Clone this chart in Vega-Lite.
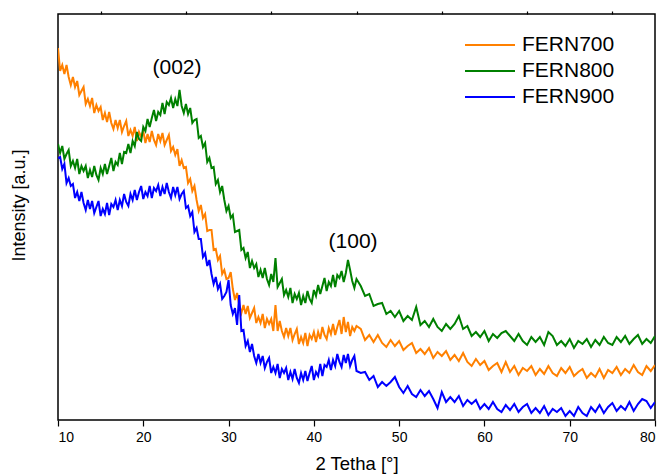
{
  "$schema": "https://vega.github.io/schema/vega-lite/v6.json",
  "width": 597,
  "height": 406,
  "autosize": "none",
  "padding": {"left": 58, "top": 14, "right": 7, "bottom": 55},
  "config": {"view": {"stroke": "#000", "strokeWidth": 1.5}, "font": "Liberation Sans"},
  "resolve": {"axis": {"x": "independent"}},
  "layer": [
    {
      "data": {"values": [
        {"x":10,"FERN700":372,"FERN800":276,"FERN900":262},
        {"x":10.25,"FERN700":349,"FERN800":267,"FERN900":263},
        {"x":10.5,"FERN700":355,"FERN800":274,"FERN900":251},
        {"x":10.75,"FERN700":346,"FERN800":261,"FERN900":256},
        {"x":11,"FERN700":355,"FERN800":266,"FERN900":237},
        {"x":11.25,"FERN700":343,"FERN800":270,"FERN900":242},
        {"x":11.5,"FERN700":335,"FERN800":254,"FERN900":234},
        {"x":11.75,"FERN700":343,"FERN800":259,"FERN900":236},
        {"x":12,"FERN700":333,"FERN800":252,"FERN900":222},
        {"x":12.25,"FERN700":339,"FERN800":261,"FERN900":228},
        {"x":12.5,"FERN700":325,"FERN800":246,"FERN900":219},
        {"x":12.75,"FERN700":329,"FERN800":254,"FERN900":228},
        {"x":13,"FERN700":333,"FERN800":249,"FERN900":217},
        {"x":13.25,"FERN700":316,"FERN800":254,"FERN900":210},
        {"x":13.5,"FERN700":321,"FERN800":242,"FERN900":220},
        {"x":13.75,"FERN700":314,"FERN800":250,"FERN900":211},
        {"x":14,"FERN700":322,"FERN800":243,"FERN900":219},
        {"x":14.25,"FERN700":307,"FERN800":254,"FERN900":207},
        {"x":14.5,"FERN700":315,"FERN800":245,"FERN900":213},
        {"x":14.75,"FERN700":309,"FERN800":240,"FERN900":219},
        {"x":15,"FERN700":313,"FERN800":252,"FERN900":204},
        {"x":15.25,"FERN700":300,"FERN800":246,"FERN900":211},
        {"x":15.5,"FERN700":307,"FERN800":256,"FERN900":206},
        {"x":15.75,"FERN700":298,"FERN800":246,"FERN900":217},
        {"x":16,"FERN700":308,"FERN800":254,"FERN900":205},
        {"x":16.25,"FERN700":297,"FERN800":262,"FERN900":216},
        {"x":16.5,"FERN700":291,"FERN800":249,"FERN900":213},
        {"x":16.75,"FERN700":300,"FERN800":258,"FERN900":220},
        {"x":17,"FERN700":292,"FERN800":255,"FERN900":210},
        {"x":17.25,"FERN700":300,"FERN800":267,"FERN900":220},
        {"x":17.5,"FERN700":288,"FERN800":256,"FERN900":214},
        {"x":17.75,"FERN700":294,"FERN800":268,"FERN900":226},
        {"x":18,"FERN700":299,"FERN800":267,"FERN900":218},
        {"x":18.25,"FERN700":284,"FERN800":276,"FERN900":214},
        {"x":18.5,"FERN700":290,"FERN800":267,"FERN900":226},
        {"x":18.75,"FERN700":284,"FERN800":279,"FERN900":220},
        {"x":19,"FERN700":293,"FERN800":274,"FERN900":230},
        {"x":19.25,"FERN700":279,"FERN800":288,"FERN900":220},
        {"x":19.5,"FERN700":288,"FERN800":281,"FERN900":228},
        {"x":19.75,"FERN700":283,"FERN800":279,"FERN900":234},
        {"x":20,"FERN700":289,"FERN800":293,"FERN900":221},
        {"x":20.25,"FERN700":277,"FERN800":289,"FERN900":228},
        {"x":20.5,"FERN700":286,"FERN800":301,"FERN900":224},
        {"x":20.75,"FERN700":278,"FERN800":293,"FERN900":234},
        {"x":21,"FERN700":289,"FERN800":302,"FERN900":222},
        {"x":21.25,"FERN700":280,"FERN800":310,"FERN900":232},
        {"x":21.5,"FERN700":275,"FERN800":299,"FERN900":229},
        {"x":21.75,"FERN700":286,"FERN800":308,"FERN900":235},
        {"x":22,"FERN700":279,"FERN800":305,"FERN900":224},
        {"x":22.25,"FERN700":287,"FERN800":317,"FERN900":233},
        {"x":22.5,"FERN700":275,"FERN800":306,"FERN900":226},
        {"x":22.75,"FERN700":280,"FERN800":318,"FERN900":237},
        {"x":23,"FERN700":285,"FERN800":315,"FERN900":228},
        {"x":23.25,"FERN700":269,"FERN800":322,"FERN900":222},
        {"x":23.5,"FERN700":273,"FERN800":312,"FERN900":233},
        {"x":23.75,"FERN700":265,"FERN800":321,"FERN900":225},
        {"x":24,"FERN700":271,"FERN800":314,"FERN900":233},
        {"x":24.25,"FERN700":254,"FERN800":330,"FERN900":221},
        {"x":24.5,"FERN700":260,"FERN800":314,"FERN900":226},
        {"x":24.75,"FERN700":252,"FERN800":307,"FERN900":229},
        {"x":25,"FERN700":253,"FERN800":316,"FERN900":212},
        {"x":25.25,"FERN700":237,"FERN800":306,"FERN900":214},
        {"x":25.5,"FERN700":241,"FERN800":312,"FERN900":204},
        {"x":25.75,"FERN700":229,"FERN800":297,"FERN900":208},
        {"x":26,"FERN700":234,"FERN800":300,"FERN900":188},
        {"x":26.25,"FERN700":220,"FERN800":301,"FERN900":192},
        {"x":26.5,"FERN700":209,"FERN800":282,"FERN900":181},
        {"x":26.75,"FERN700":215,"FERN800":284,"FERN900":181},
        {"x":27,"FERN700":202,"FERN800":273,"FERN900":163},
        {"x":27.25,"FERN700":206,"FERN800":277,"FERN900":167},
        {"x":27.5,"FERN700":189,"FERN800":258,"FERN900":154},
        {"x":27.75,"FERN700":190,"FERN800":262,"FERN900":160},
        {"x":28,"FERN700":190,"FERN800":252,"FERN900":146},
        {"x":28.25,"FERN700":170,"FERN800":253,"FERN900":136},
        {"x":28.5,"FERN700":171,"FERN800":236,"FERN900":143},
        {"x":28.75,"FERN700":160,"FERN800":240,"FERN900":131},
        {"x":29,"FERN700":164,"FERN800":228,"FERN900":136},
        {"x":29.25,"FERN700":146,"FERN800":234,"FERN900":121},
        {"x":29.5,"FERN700":150,"FERN800":220,"FERN900":124},
        {"x":29.75,"FERN700":141,"FERN800":209,"FERN900":128},
        {"x":30,"FERN700":142,"FERN800":214,"FERN900":140},
        {"x":30.25,"FERN700":148,"FERN800":202,"FERN900":115},
        {"x":30.5,"FERN700":131,"FERN800":205,"FERN900":106},
        {"x":30.75,"FERN700":120,"FERN800":188,"FERN900":112},
        {"x":31,"FERN700":127,"FERN800":189,"FERN900":95},
        {"x":31.25,"FERN700":115,"FERN800":190,"FERN900":125},
        {"x":31.5,"FERN700":107,"FERN800":170,"FERN900":89},
        {"x":31.75,"FERN700":115,"FERN800":172,"FERN900":90},
        {"x":32,"FERN700":106,"FERN800":162,"FERN900":74},
        {"x":32.25,"FERN700":114,"FERN800":168,"FERN900":79},
        {"x":32.5,"FERN700":102,"FERN800":152,"FERN900":68},
        {"x":32.75,"FERN700":107,"FERN800":159,"FERN900":76},
        {"x":33,"FERN700":112,"FERN800":152,"FERN900":64},
        {"x":33.25,"FERN700":97,"FERN800":156,"FERN900":57},
        {"x":33.5,"FERN700":103,"FERN800":143,"FERN900":66},
        {"x":33.75,"FERN700":97,"FERN800":150,"FERN900":57},
        {"x":34,"FERN700":106,"FERN800":142,"FERN900":64},
        {"x":34.25,"FERN700":92,"FERN800":152,"FERN900":52},
        {"x":34.5,"FERN700":101,"FERN800":141,"FERN900":58},
        {"x":34.75,"FERN700":96,"FERN800":135,"FERN900":62},
        {"x":35,"FERN700":101,"FERN800":146,"FERN900":47},
        {"x":35.25,"FERN700":89,"FERN800":138,"FERN900":53},
        {"x":35.5,"FERN700":115,"FERN800":162,"FERN900":47},
        {"x":35.75,"FERN700":89,"FERN800":133,"FERN900":56},
        {"x":36,"FERN700":99,"FERN800":137,"FERN900":42},
        {"x":36.25,"FERN700":89,"FERN800":141,"FERN900":51},
        {"x":36.5,"FERN700":83,"FERN800":125,"FERN900":47},
        {"x":36.75,"FERN700":92,"FERN800":130,"FERN900":52},
        {"x":37,"FERN700":84,"FERN800":123,"FERN900":40},
        {"x":37.25,"FERN700":92,"FERN800":132,"FERN900":48},
        {"x":37.5,"FERN700":80,"FERN800":117,"FERN900":41},
        {"x":37.75,"FERN700":86,"FERN800":126,"FERN900":51},
        {"x":38,"FERN700":91,"FERN800":121,"FERN900":42},
        {"x":38.25,"FERN700":76,"FERN800":127,"FERN900":37},
        {"x":38.5,"FERN700":83,"FERN800":115,"FERN900":47},
        {"x":38.75,"FERN700":77,"FERN800":124,"FERN900":40},
        {"x":39,"FERN700":87,"FERN800":117,"FERN900":49},
        {"x":39.25,"FERN700":74,"FERN800":129,"FERN900":39},
        {"x":39.5,"FERN700":85,"FERN800":121,"FERN900":47},
        {"x":39.75,"FERN700":81,"FERN800":117,"FERN900":54},
        {"x":40,"FERN700":88,"FERN800":130,"FERN900":40},
        {"x":40.25,"FERN700":78,"FERN800":124,"FERN900":48},
        {"x":40.5,"FERN700":88,"FERN800":135,"FERN900":44},
        {"x":40.75,"FERN700":81,"FERN800":126,"FERN900":56},
        {"x":41,"FERN700":93,"FERN800":134,"FERN900":44},
        {"x":41.25,"FERN700":85,"FERN800":142,"FERN900":55},
        {"x":41.5,"FERN700":81,"FERN800":129,"FERN900":53},
        {"x":41.75,"FERN700":92,"FERN800":138,"FERN900":60},
        {"x":42,"FERN700":86,"FERN800":134,"FERN900":50},
        {"x":42.25,"FERN700":96,"FERN800":145,"FERN900":60},
        {"x":42.5,"FERN700":85,"FERN800":133,"FERN900":54},
        {"x":42.75,"FERN700":93,"FERN800":145,"FERN900":66},
        {"x":43,"FERN700":100,"FERN800":142,"FERN900":58},
        {"x":43.25,"FERN700":86,"FERN800":149,"FERN900":53},
        {"x":43.5,"FERN700":103,"FERN800":138,"FERN900":65},
        {"x":43.75,"FERN700":88,"FERN800":147,"FERN900":57},
        {"x":44,"FERN700":98,"FERN800":160,"FERN900":66},
        {"x":44.25,"FERN700":84,"FERN800":150,"FERN900":54},
        {"x":44.5,"FERN700":93,"FERN800":139,"FERN900":60},
        {"x":44.75,"FERN700":89,"FERN800":132,"FERN900":64},
        {"x":45,"FERN700":94,"FERN800":141,"FERN900":49},
        {"x":45.5,"FERN700":91,"FERN800":134,"FERN900":47},
        {"x":46,"FERN700":80,"FERN800":124,"FERN900":48},
        {"x":46.5,"FERN700":85,"FERN800":126,"FERN900":40},
        {"x":47,"FERN700":78,"FERN800":114,"FERN900":44},
        {"x":47.5,"FERN700":85,"FERN800":116,"FERN900":33},
        {"x":48,"FERN700":77,"FERN800":117,"FERN900":38},
        {"x":48.5,"FERN700":73,"FERN800":106,"FERN900":34},
        {"x":49,"FERN700":80,"FERN800":109,"FERN900":38},
        {"x":49.5,"FERN700":74,"FERN800":103,"FERN900":43},
        {"x":50,"FERN700":79,"FERN800":109,"FERN900":33},
        {"x":50.5,"FERN700":70,"FERN800":99,"FERN900":27},
        {"x":51,"FERN700":74,"FERN800":104,"FERN900":34},
        {"x":51.5,"FERN700":77,"FERN800":100,"FERN900":26},
        {"x":52,"FERN700":67,"FERN800":113,"FERN900":23},
        {"x":52.5,"FERN700":71,"FERN800":95,"FERN900":30},
        {"x":53,"FERN700":66,"FERN800":99,"FERN900":24},
        {"x":53.5,"FERN700":72,"FERN800":93,"FERN900":29},
        {"x":54,"FERN700":62,"FERN800":101,"FERN900":21},
        {"x":54.5,"FERN700":68,"FERN800":93,"FERN900":12},
        {"x":55,"FERN700":64,"FERN800":89,"FERN900":28},
        {"x":55.5,"FERN700":69,"FERN800":96,"FERN900":18},
        {"x":56,"FERN700":60,"FERN800":91,"FERN900":23},
        {"x":56.5,"FERN700":65,"FERN800":96,"FERN900":18},
        {"x":57,"FERN700":59,"FERN800":104,"FERN900":24},
        {"x":57.5,"FERN700":67,"FERN800":91,"FERN900":14},
        {"x":58,"FERN700":58,"FERN800":94,"FERN900":20},
        {"x":58.5,"FERN700":54,"FERN800":84,"FERN900":16},
        {"x":59,"FERN700":61,"FERN800":88,"FERN900":20},
        {"x":59.5,"FERN700":55,"FERN800":83,"FERN900":11},
        {"x":60,"FERN700":59,"FERN800":89,"FERN900":16},
        {"x":60.5,"FERN700":50,"FERN800":79,"FERN900":11},
        {"x":61,"FERN700":54,"FERN800":86,"FERN900":18},
        {"x":61.5,"FERN700":57,"FERN800":82,"FERN900":11},
        {"x":62,"FERN700":48,"FERN800":87,"FERN900":8},
        {"x":62.5,"FERN700":58,"FERN800":89,"FERN900":15},
        {"x":63,"FERN700":48,"FERN800":84,"FERN900":10},
        {"x":63.5,"FERN700":54,"FERN800":79,"FERN900":16},
        {"x":64,"FERN700":45,"FERN800":86,"FERN900":8},
        {"x":64.5,"FERN700":52,"FERN800":79,"FERN900":13},
        {"x":65,"FERN700":49,"FERN800":75,"FERN900":16},
        {"x":65.5,"FERN700":54,"FERN800":83,"FERN900":7},
        {"x":66,"FERN700":45,"FERN800":78,"FERN900":12},
        {"x":66.5,"FERN700":51,"FERN800":83,"FERN900":7},
        {"x":67,"FERN700":46,"FERN800":75,"FERN900":14},
        {"x":67.5,"FERN700":54,"FERN800":88,"FERN900":5},
        {"x":68,"FERN700":47,"FERN800":84,"FERN900":11},
        {"x":68.5,"FERN700":44,"FERN800":75,"FERN900":8},
        {"x":69,"FERN700":52,"FERN800":79,"FERN900":12},
        {"x":69.5,"FERN700":47,"FERN800":74,"FERN900":4},
        {"x":70,"FERN700":53,"FERN800":81,"FERN900":9},
        {"x":70.5,"FERN700":44,"FERN800":72,"FERN900":4},
        {"x":71,"FERN700":48,"FERN800":79,"FERN900":13},
        {"x":71.5,"FERN700":51,"FERN800":76,"FERN900":7},
        {"x":72,"FERN700":42,"FERN800":81,"FERN900":4},
        {"x":72.5,"FERN700":47,"FERN800":73,"FERN900":13},
        {"x":73,"FERN700":43,"FERN800":80,"FERN900":8},
        {"x":73.5,"FERN700":51,"FERN800":75,"FERN900":15},
        {"x":74,"FERN700":42,"FERN800":83,"FERN900":7},
        {"x":74.5,"FERN700":50,"FERN800":77,"FERN900":13},
        {"x":75,"FERN700":47,"FERN800":75,"FERN900":17},
        {"x":75.5,"FERN700":53,"FERN800":83,"FERN900":9},
        {"x":76,"FERN700":45,"FERN800":78,"FERN900":14},
        {"x":76.5,"FERN700":51,"FERN800":84,"FERN900":10},
        {"x":77,"FERN700":47,"FERN800":76,"FERN900":18},
        {"x":77.5,"FERN700":55,"FERN800":81,"FERN900":9},
        {"x":78,"FERN700":48,"FERN800":85,"FERN900":16},
        {"x":78.5,"FERN700":45,"FERN800":76,"FERN900":21},
        {"x":79,"FERN700":54,"FERN800":81,"FERN900":19},
        {"x":79.5,"FERN700":49,"FERN800":77,"FERN900":12},
        {"x":80,"FERN700":55,"FERN800":84,"FERN900":18}
      ]},
      "transform": [{"fold": ["FERN700", "FERN800", "FERN900"], "as": ["s", "v"]}],
      "mark": {"type": "line", "strokeWidth": 2, "clip": true},
      "encoding": {
        "x": {"field": "x", "type": "quantitative",
          "scale": {"domain": [10, 80], "nice": false, "zero": false},
          "axis": {"values": [10, 20, 30, 40, 50, 60, 70, 80], "title": "2 Tetha [°]", "grid": false, "domain": false,
            "tickSize": 6, "tickColor": "#000", "tickWidth": 1.2,
            "labelFont": "Liberation Sans", "labelFontSize": 14, "labelColor": "#000", "labelPadding": 4,
            "titleFont": "Liberation Sans", "titleFontSize": 18.5, "titleFontWeight": "normal", "titleColor": "#000", "titlePadding": 10}},
        "y": {"field": "v", "type": "quantitative",
          "scale": {"domain": [0, 406], "nice": false},
          "axis": {"title": "Intensity [a.u.]", "labels": false, "ticks": false, "grid": false, "domain": false,
            "titleFont": "Liberation Sans", "titleFontSize": 18, "titleFontWeight": "normal", "titleColor": "#000", "titlePadding": 30, "titleY": 191}},
        "color": {"field": "s", "type": "nominal",
          "scale": {"domain": ["FERN700", "FERN800", "FERN900"], "range": ["#FF8000", "#008000", "#0000FF"]},
          "legend": {"title": null, "orient": "none", "legendX": 406, "legendY": 18,
            "symbolType": "stroke", "symbolSize": 2500, "symbolStrokeWidth": 2, "clipHeight": 26,
            "labelFont": "Liberation Sans", "labelFontSize": 21, "labelColor": "#000", "labelOffset": 6, "rowPadding": 0}}
      }
    },
    {
      "data": {"values": [{"x": 15}, {"x": 25}, {"x": 35}, {"x": 45}, {"x": 55}, {"x": 65}, {"x": 75}]},
      "mark": {"type": "point", "opacity": 0},
      "encoding": {
        "x": {"field": "x", "type": "quantitative",
          "axis": {"values": [15, 25, 35, 45, 55, 65, 75], "labels": false, "domain": false, "grid": false, "title": null,
            "tickSize": 3, "tickColor": "#000", "tickWidth": 1.2}}
      }
    },
    {
      "data": {"values": [{"x": 23.95, "v": 352, "label": "(002)"}, {"x": 44.6, "v": 178, "label": "(100)"}]},
      "mark": {"type": "text", "font": "Liberation Sans", "fontSize": 21, "color": "#000", "baseline": "middle", "align": "center"},
      "encoding": {
        "x": {"field": "x", "type": "quantitative", "axis": null},
        "y": {"field": "v", "type": "quantitative"},
        "text": {"field": "label"}
      }
    }
  ]
}
